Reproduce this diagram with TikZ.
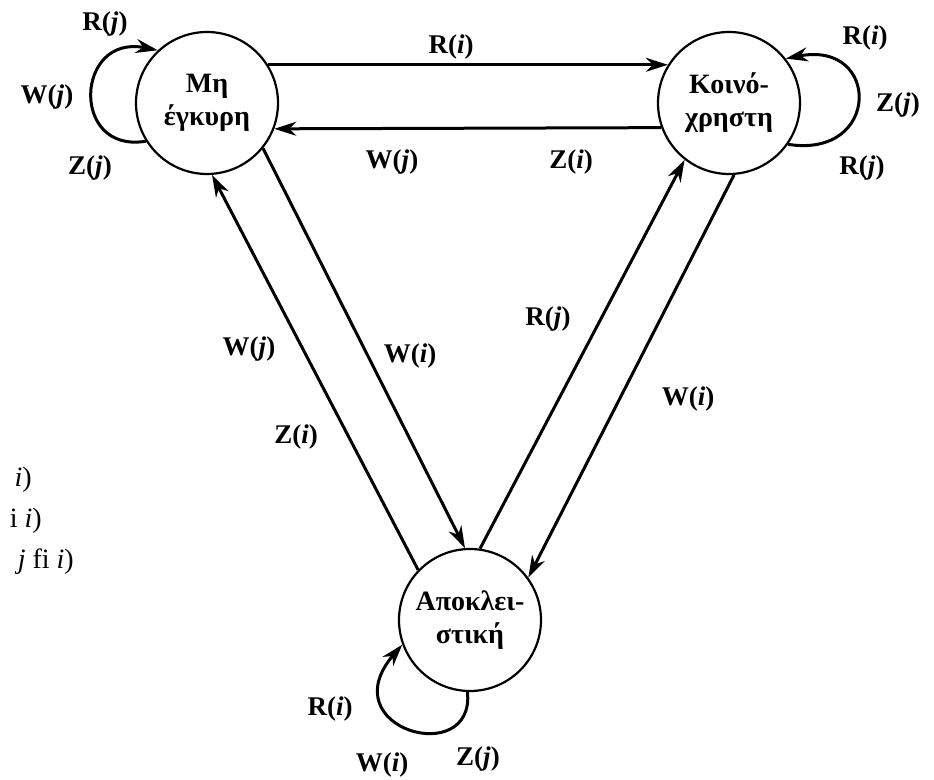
\documentclass[tikz,border=0pt]{standalone}
\usepackage{fontspec}
\setmainfont{Liberation Serif}
\usetikzlibrary{arrows.meta}
\begin{document}
\begin{tikzpicture}[x=1pt,y=1pt,
  state/.style={circle, draw, line width=2.2pt, minimum size=142pt, inner sep=0pt,
    align=center, font=\fontsize{28}{33}\selectfont\bfseries, fill=white},
  edge/.style={line width=3pt, -{Stealth[length=22pt,width=14pt,inset=7pt]}},
  lbl/.style={font=\fontsize{27}{29}\selectfont\bfseries, inner sep=0pt},
  leg/.style={font=\fontsize{28}{30}\selectfont, inner sep=0pt, anchor=east}]
\useasboundingbox (0,0) rectangle (934,779);

% states
\node[state] (A) at (207,676) {Μη\\έγκυρη};
\node[state] (B) at (729,676) {Κοινό-\\χρηστη};
\node[state] (C) at (470,159) {Αποκλει-\\στική};

% horizontal edges
\draw[edge] (A.32) -- (B.148);
\draw[edge] (B.200.6) -- (A.339.4);

% diagonal edges
\draw[edge] (C.136) -- (A.274);
\draw[edge] (A.321.6) -- (C.94);
\draw[edge] (C.82) -- (B.232);
\draw[edge] (B.274) -- (C.36.4);

% loops
\draw[edge] (A.212) .. controls (70,625) and (75,745) .. (A.133);
\draw[edge] (B.325) .. controls (881,620) and (881,739) .. (B.38);
\draw[edge] (C.268) .. controls (475,10) and (330,50) .. (C.200.5);

% labels
\node[lbl] (lAr) at (105,755) {R(\textit{j})};
\node[lbl] (lAw) at (47,682) {W(\textit{j})};
\node[lbl] (lAz) at (90,611) {Z(\textit{j})};
\node[lbl] (lAB) at (451,732) {R(\textit{i})};
\node[lbl] (lBAw) at (392,617) {W(\textit{j})};
\node[lbl] (lBAz) at (571,617) {Z(\textit{i})};
\node[lbl] (lBr) at (865,741) {R(\textit{i})};
\node[lbl] (lBz) at (898,674) {Z(\textit{j})};
\node[lbl] (lBr2) at (862,611) {R(\textit{j})};
\node[lbl] (lCAw) at (249,430) {W(\textit{j})};
\node[lbl] (lCAz) at (296,342) {Z(\textit{i})};
\node[lbl] (lAC) at (410,423) {W(\textit{i})};
\node[lbl] (lCB) at (548,460) {R(\textit{j})};
\node[lbl] (lBC) at (688,380) {W(\textit{i})};
\node[lbl] (lCr) at (330,70) {R(\textit{i})};
\node[lbl] (lCw) at (382,14) {W(\textit{i})};
\node[lbl] (lCz) at (478,20) {Z(\textit{j})};

% cut-off legend fragments
\node[leg] (g1) at (32,299) {\textit{i})};
\node[leg] (g2) at (42,258) {i \textit{i})};
\node[leg] (g3) at (74,217) {\textit{j} fi \textit{i})};
\end{tikzpicture}
\end{document}
